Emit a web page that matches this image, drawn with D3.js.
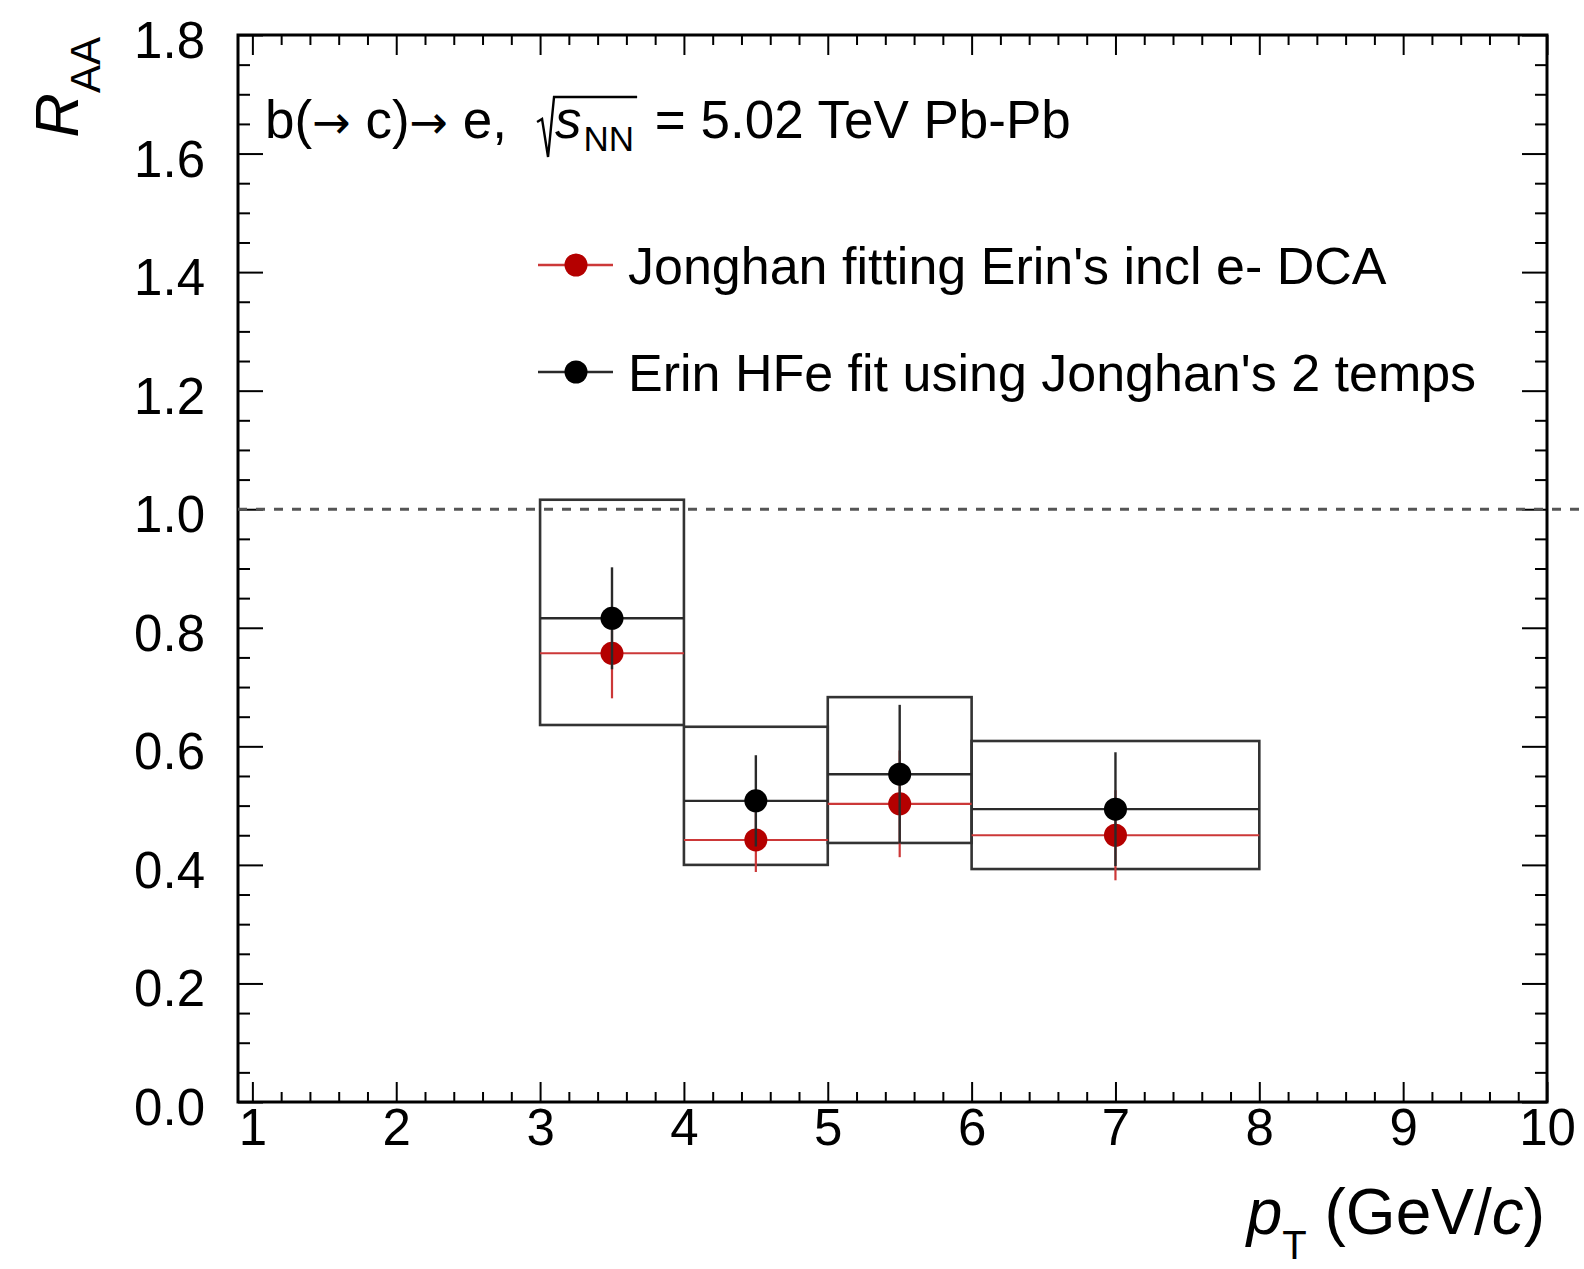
<!DOCTYPE html>
<html>
<head>
<meta charset="utf-8">
<script src="https://cdn.jsdelivr.net/npm/d3@7"></script>
<style>
  body { margin: 0; background: #fff; }
  svg { display: block; }
  text { font-family: "Liberation Sans", Arial, Helvetica, sans-serif; fill: #000; }
</style>
</head>
<body>
<svg id="chart" width="1584" height="1269"></svg>
<script>
// pT bins
const binLo = [3, 4, 5, 6];
const binHi = [4, 5, 6, 8];
const binCenter = [3.5, 4.5, 5.5, 7];

// Erin HFe fit using Jonghan's 2 temps (black)
const erinVal = [0.816, 0.508, 0.553, 0.494];
const erinStat = [0.086, 0.077, 0.117, 0.096];
const erinSysLo = [0.636, 0.400, 0.437, 0.393];
const erinSysHi = [1.016, 0.633, 0.683, 0.609];

// Jonghan fitting Erin's incl e- DCA (red)
const jongVal = [0.757, 0.442, 0.503, 0.450];
const jongStat = [0.076, 0.054, 0.090, 0.076];

const xTicks = [1, 2, 3, 4, 5, 6, 7, 8, 9, 10];
const yTicks = [0, 0.2, 0.4, 0.6, 0.8, 1.0, 1.2, 1.4, 1.6, 1.8];
const xDomain = [0.9, 10];
const yDomain = [0, 1.8];
const refLine = [0.9, 10.3]; // dashed R_AA = 1 line, runs past the frame

const legendLabels = ["Jonghan fitting Erin's incl e- DCA", "Erin HFe fit using Jonghan's 2 temps"];

const svg = d3.select("#chart");
const W = 1584;
const padL = 238, padR = 1547, padT = 35, padB = 1102;

const x = d3.scaleLinear().domain(xDomain).range([padL, padR]);
const y = d3.scaleLinear().domain(yDomain).range([padB, padT]);

const red = "#b40000", redLine = "#cc3838", blk = "#000", blkLine = "#2a2a2a";

// minor tick values
const xMinor = d3.range(1, 10.001, 0.2).filter(v => Math.abs(v - Math.round(v)) > 1e-6);
const yMinor = d3.range(0, 1.8001, 0.05).filter(v => Math.abs(v * 5 - Math.round(v * 5)) > 1e-6);

function axisG(gen, tx, ty) {
    const g = svg.append("g").attr("transform", `translate(${tx},${ty})`).call(gen);
    g.select(".domain").remove();
    g.selectAll("line").attr("stroke", "#000").attr("stroke-width", 2);
    return g;
}

// bottom axis
const gx = axisG(d3.axisBottom(x).tickValues(xTicks).tickSize(-20).tickPadding(7).tickFormat(d3.format("d")), 0, padB);
gx.selectAll("text").attr("font-size", 51).attr("font-family", "Liberation Sans, Arial, sans-serif");
axisG(d3.axisBottom(x).tickValues(xMinor).tickSize(-10).tickFormat(""), 0, padB);
// top axis
axisG(d3.axisTop(x).tickValues(xTicks).tickSize(-20).tickFormat(""), 0, padT);
axisG(d3.axisTop(x).tickValues(xMinor).tickSize(-10).tickFormat(""), 0, padT);
// left axis
const gy = axisG(d3.axisLeft(y).tickValues(yTicks).tickSize(-25).tickPadding(33).tickFormat(d3.format(".1f")), padL, 0);
gy.selectAll("text").attr("font-size", 51).attr("dy", "0.44em").attr("font-family", "Liberation Sans, Arial, sans-serif");
axisG(d3.axisLeft(y).tickValues(yMinor).tickSize(-12).tickFormat(""), padL, 0);
// right axis
axisG(d3.axisRight(y).tickValues(yTicks).tickSize(-25).tickFormat(""), padR, 0);
axisG(d3.axisRight(y).tickValues(yMinor).tickSize(-12).tickFormat(""), padR, 0);

// frame
svg.append("rect")
    .attr("x", padL).attr("y", padT)
    .attr("width", padR - padL).attr("height", padB - padT)
    .attr("fill", "none").attr("stroke", "#000").attr("stroke-width", 3);

// dashed line at 1
svg.append("line")
    .attr("x1", x(refLine[0])).attr("x2", Math.min(W, x(refLine[1])))
    .attr("y1", y(1)).attr("y2", y(1))
    .attr("stroke", "#555").attr("stroke-width", 3).attr("stroke-dasharray", "9,9");

// systematic boxes
svg.append("g").selectAll("rect")
    .data(binLo)
    .enter().append("rect")
    .attr("x", (d, i) => x(binLo[i]))
    .attr("width", (d, i) => x(binHi[i]) - x(binLo[i]))
    .attr("y", (d, i) => y(erinSysHi[i]))
    .attr("height", (d, i) => y(erinSysLo[i]) - y(erinSysHi[i]))
    .attr("fill", "none").attr("stroke", "#333").attr("stroke-width", 2.6);

function drawSeries(vals, errs, lineColor, lineW, markColor) {
    const g = svg.append("g");
    vals.forEach((v, i) => {
        g.append("line")
            .attr("x1", x(binLo[i])).attr("x2", x(binHi[i]))
            .attr("y1", y(v)).attr("y2", y(v))
            .attr("stroke", lineColor).attr("stroke-width", lineW);
        g.append("line")
            .attr("x1", x(binCenter[i])).attr("x2", x(binCenter[i]))
            .attr("y1", y(v - errs[i])).attr("y2", y(v + errs[i]))
            .attr("stroke", lineColor).attr("stroke-width", lineW);
    });
    g.selectAll("circle")
        .data(vals)
        .enter().append("circle")
        .attr("cx", (d, i) => x(binCenter[i]))
        .attr("cy", d => y(d))
        .attr("r", 11.5)
        .attr("fill", markColor);
}

drawSeries(jongVal, jongStat, redLine, 2.2, red);
drawSeries(erinVal, erinStat, blkLine, 2.4, blk);

// legend
const legend = svg.append("g");
const legY = [265, 372];
const legColors = [[redLine, red], [blkLine, blk]];
legendLabels.forEach((lab, i) => {
    legend.append("line")
        .attr("x1", 538).attr("x2", 613)
        .attr("y1", legY[i]).attr("y2", legY[i])
        .attr("stroke", legColors[i][0]).attr("stroke-width", 2.4);
    legend.append("circle")
        .attr("cx", 576).attr("cy", legY[i]).attr("r", 11.5)
        .attr("fill", legColors[i][1]);
    legend.append("text")
        .attr("x", 628).attr("y", legY[i] + 19)
        .attr("font-size", 52)
        .text(lab);
});

// title text b(-> c)-> e, sqrt(s_NN) = 5.02 TeV Pb-Pb
const tBase = 138, tSize = 53;
const t1 = svg.append("text").attr("x", 265).attr("y", tBase).attr("font-size", tSize);
t1.append("tspan").text("b(");
t1.append("tspan").attr("font-family", "DejaVu Sans").attr("font-size", 46).text("\u2192");
t1.append("tspan").text("\u00a0c)");
t1.append("tspan").attr("font-family", "DejaVu Sans").attr("font-size", 46).text("\u2192");
t1.append("tspan").text("\u00a0e,");
let cx = 265 + t1.node().getComputedTextLength();
const radX = cx + 30;
const ts = svg.append("text").attr("x", radX + 18).attr("y", tBase).attr("font-size", tSize)
    .attr("font-style", "italic").text("s");
cx = radX + 18 + ts.node().getComputedTextLength();
const tnn = svg.append("text").attr("x", cx + 2).attr("y", tBase + 13).attr("font-size", 35).text("NN");
cx = cx + 2 + tnn.node().getComputedTextLength();
svg.append("path")
    .attr("d", `M${radX},${tBase - 16}L${radX + 5},${tBase - 19}L${radX + 11},${tBase + 19}L${radX + 17},${tBase - 41}L${cx + 3},${tBase - 41}`)
    .attr("fill", "none").attr("stroke", "#000").attr("stroke-width", 2.4).attr("stroke-linejoin", "miter");
svg.append("text").attr("x", cx + 6).attr("y", tBase).attr("font-size", tSize)
    .text("\u00a0=\u00a05.02 TeV Pb-Pb");

// y title
const yt = svg.append("text")
    .attr("transform", "translate(78,37) rotate(-90)")
    .attr("text-anchor", "end");
yt.append("tspan").attr("font-size", 62).attr("font-style", "italic").text("R");
yt.append("tspan").attr("font-size", 42).attr("dy", 22).text("AA");

// x title
const xt = svg.append("text")
    .attr("x", 1545).attr("y", 1234)
    .attr("text-anchor", "end").attr("font-size", 64);
xt.append("tspan").attr("font-style", "italic").text("p");
xt.append("tspan").attr("font-size", 40).attr("dy", 25).text("T");
xt.append("tspan").attr("dy", -25).text("\u00a0(GeV/");
xt.append("tspan").attr("font-style", "italic").text("c");
xt.append("tspan").text(")");
</script>
</body>
</html>
